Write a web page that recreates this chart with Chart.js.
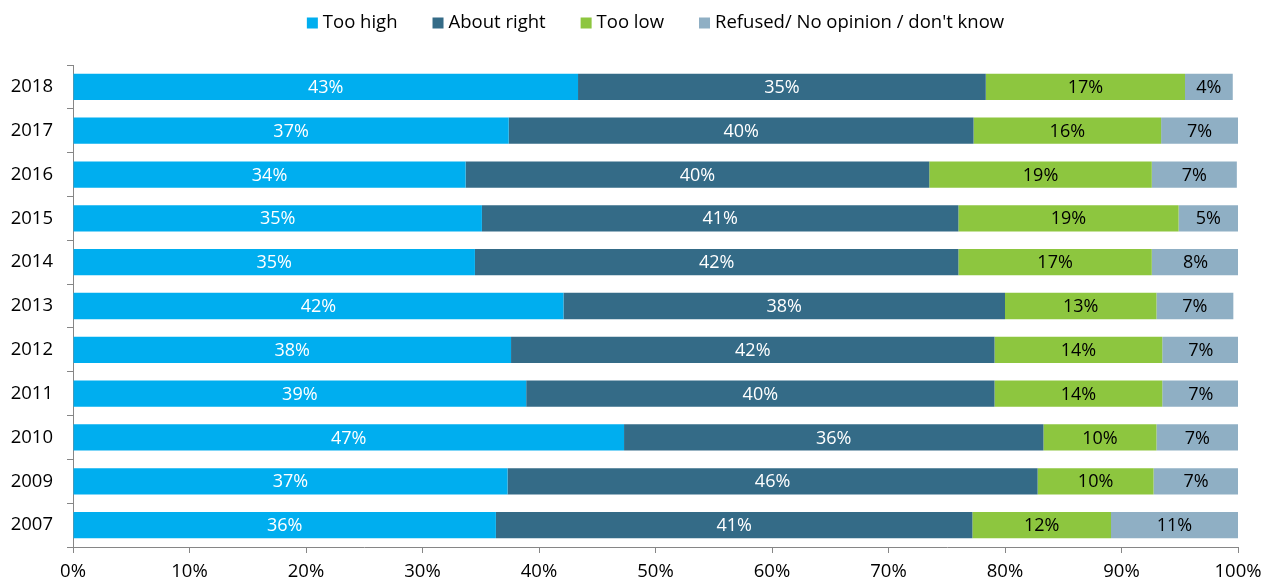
<!DOCTYPE html>
<html>
<head>
<meta charset="utf-8">
<script src="https://cdn.jsdelivr.net/npm/chart.js@4.4.1/dist/chart.umd.min.js"></script>
<style>
html,body{margin:0;padding:0;background:#fff;}
#wrap{width:1271px;height:583px;position:relative;}
</style>
</head>
<body>
<div id="wrap"><canvas id="c" width="1271" height="583"></canvas></div>
<script>
const categories = ["2018","2017","2016","2015","2014","2013","2012","2011","2010","2009","2007"];
const seriesNames = ["Too high","About right","Too low","Refused/ No opinion / don't know"];
const tooHigh    = [43.35, 37.4, 33.7, 35.1, 34.5, 42.1, 37.6, 38.9, 47.3, 37.3, 36.3];
const aboutRight = [35.0, 39.9, 39.8, 40.9, 41.5, 37.9, 41.5, 40.2, 36.0, 45.5, 40.9];
const tooLow     = [17.1, 16.1, 19.1, 18.9, 16.6, 13.0, 14.4, 14.4, 9.7, 9.95, 11.9];
const refused    = [4.1, 6.6, 7.3, 5.1, 7.5, 6.6, 6.6, 6.6, 7.0, 7.3, 10.9];
const xTicks = [0,10,20,30,40,50,60,70,80,90,100];

const colors = ["#00AEEF","#346B87","#8DC63F","#8FAFC4"];
const labelColors = ["#ffffff","#ffffff","#000000","#000000"];
const FONT = "'Open Sans', 'Liberation Sans', sans-serif";

const valueLabels = {
  id: 'valueLabels',
  afterDatasetsDraw(chart) {
    const ctx = chart.ctx;
    ctx.save();
    ctx.font = "18px " + FONT;
    ctx.textAlign = "center";
    ctx.textBaseline = "middle";
    chart.data.datasets.forEach((ds, i) => {
      const meta = chart.getDatasetMeta(i);
      meta.data.forEach((bar, j) => {
        const v = ds.data[j];
        const x = (bar.x + bar.base) / 2;
        ctx.fillStyle = labelColors[i];
        ctx.fillText(Math.round(v) + "%", x, bar.y + 1);
      });
    });
    ctx.restore();
  }
};

const customLegend = {
  id: 'customLegend',
  afterDraw(chart) {
    const ctx = chart.ctx;
    const area = chart.chartArea;
    ctx.save();
    ctx.font = "18.5px " + FONT;
    ctx.textBaseline = "middle";
    const box = 11, gapText = 5, gapItem = 35;
    const widths = chart.data.datasets.map(ds => ctx.measureText(ds.label).width);
    const total = widths.reduce((a, w) => a + box + gapText + w, 0) + gapItem * (widths.length - 1);
    let x = (area.left + area.right) / 2 - total / 2;
    const y = 23;
    chart.data.datasets.forEach((ds, i) => {
      ctx.fillStyle = ds.backgroundColor;
      ctx.fillRect(x, y - box / 2, box, box);
      ctx.fillStyle = '#000';
      ctx.fillText(ds.label, x + box + gapText, y);
      x += box + gapText + widths[i] + gapItem;
    });
    ctx.restore();
  }
};

new Chart(document.getElementById('c'), {
  type: 'bar',
  data: {
    labels: categories,
    datasets: [tooHigh, aboutRight, tooLow, refused].map((d, i) => ({
      label: seriesNames[i],
      data: d,
      backgroundColor: colors[i],
      borderWidth: 0,
      categoryPercentage: 1.0,
      barPercentage: 0.6
    }))
  },
  options: {
    indexAxis: 'y',
    responsive: false,
    animation: false,
    layout: { padding: { top: 65, right: 33, left: 0, bottom: 0 } },
    plugins: {
      legend: { display: false },
      tooltip: { enabled: false }
    },
    scales: {
      x: {
        stacked: true,
        min: 0, max: 100,
        afterBuildTicks(axis) { axis.ticks = xTicks.map(v => ({ value: v })); },
        afterFit(axis) { axis.height = 36; },
        grid: { display: true, drawOnChartArea: false, drawTicks: true, tickLength: 6, color: '#868686' },
        border: { display: true, color: '#868686', width: 1 },
        ticks: {
          padding: 8,
          color: '#000',
          font: { size: 18.5, family: FONT },
          callback: v => v + '%'
        }
      },
      y: {
        stacked: true,
        afterFit(axis) { axis.width = 73; },
        grid: { display: true, drawOnChartArea: false, drawTicks: true, tickLength: 6, offset: true, color: '#868686' },
        border: { display: true, color: '#868686', width: 1 },
        ticks: {
          padding: 14,
          color: '#000',
          font: { size: 18.5, family: FONT }
        }
      }
    }
  },
  plugins: [valueLabels, customLegend]
});
</script>
</body>
</html>
